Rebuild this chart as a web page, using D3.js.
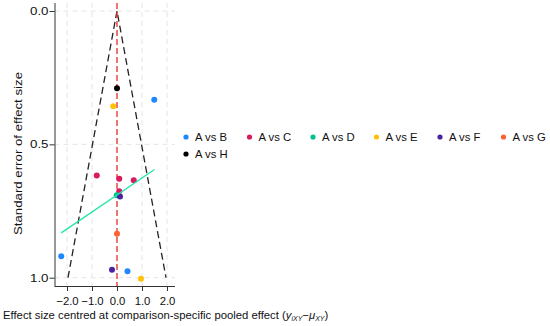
<!DOCTYPE html>
<html><head><meta charset="utf-8">
<script src="https://cdn.jsdelivr.net/npm/d3@7"></script>
<style>body{margin:0;background:#fff}svg{display:block;font-family:"Liberation Sans",Arial,sans-serif}</style>
</head><body><svg id="c" width="550" height="326"></svg>
<script>
const comparisons = ["A vs B","A vs C","A vs D","A vs E","A vs F","A vs G","A vs H"];
const colors = ["#1e88ff","#d81b60","#00c08b","#ffc20a","#4b239e","#fe6131","#000000"];
// each study: comparison, centred effect, standard error
const studyComp = ["A vs H","A vs E","A vs B","A vs C","A vs C","A vs C","A vs C","A vs D","A vs F","A vs G","A vs B","A vs F","A vs B","A vs E"];
const studyEffect = [0.0,-0.15,1.49,-0.81,0.09,0.67,0.09,-0.01,0.12,0.0,-2.23,-0.2,0.42,0.96];
const studySE = [0.29,0.357,0.333,0.617,0.629,0.635,0.676,0.691,0.696,0.835,0.92,0.97,0.976,1.004];
const regX = [-2.23, 1.5];
const regY = [0.832, 0.594];
const xTicks = [-2,-1,0,1,2];
const yTicks = [0,0.5,1];

const svg = d3.select("#c");
const x = d3.scaleLinear().domain([-2.5,2.32]).range([54.5,175]);
const y = d3.scaleLinear().domain([0,1]).range([11,277.7]);
const yTop = 3, yBot = 286;
const col = d3.scaleOrdinal().domain(comparisons).range(colors);

// grid
const g = svg.append("g");
g.selectAll(".gx").data(xTicks).join("line")
 .attr("x1",d=>x(d)).attr("x2",d=>x(d)).attr("y1",yTop).attr("y2",yBot)
 .attr("stroke","#e4e4e4").attr("stroke-width",1).attr("stroke-dasharray","5,4");
g.selectAll(".gy").data(yTicks).join("line")
 .attr("x1",54.5).attr("x2",175).attr("y1",d=>y(d)).attr("y2",d=>y(d))
 .attr("stroke","#e4e4e4").attr("stroke-width",1).attr("stroke-dasharray","5,4");

// funnel
const funnel = [[-1.96,1],[0,0],[1.96,1]];
svg.append("path").attr("d", d3.line().x(d=>x(d[0])).y(d=>y(d[1]))(funnel))
 .attr("fill","none").attr("stroke","#222").attr("stroke-width",1.3).attr("stroke-dasharray","7,4");
// null line
svg.append("line").attr("x1",x(0)).attr("x2",x(0)).attr("y1",yTop).attr("y2",yBot)
 .attr("stroke","#e8342c").attr("stroke-width",1.3).attr("stroke-dasharray","6,3");

// points
const pts = studyComp.map((c,i)=>({c, e:studyEffect[i], s:studySE[i]}));
svg.selectAll(".pt").data(pts).join("circle")
 .attr("cx",d=>x(d.e)).attr("cy",d=>y(d.s)).attr("r",3).attr("fill",d=>col(d.c));

// regression line
svg.append("line").attr("x1",x(regX[0])).attr("y1",y(regY[0])).attr("x2",x(regX[1])).attr("y2",y(regY[1]))
 .attr("stroke","#22e6a8").attr("stroke-width",1.3);

// axes
const xa = svg.append("g").attr("transform",`translate(0,${yBot})`)
 .call(d3.axisBottom(x).tickValues(xTicks).tickFormat(d3.format(".1f")).tickSize(5).tickSizeOuter(0));
const ya = svg.append("g").attr("transform","translate(54.5,0)")
 .call(d3.axisLeft(y).tickValues(yTicks).tickFormat(d3.format(".1f")).tickSize(5).tickSizeOuter(0));
xa.select(".domain").attr("d",`M54.5,0.5H175`);
ya.select(".domain").attr("d",`M0.5,${yTop}V${yBot}`);
[xa,ya].forEach(a=>{a.selectAll("text").attr("font-size",11.3).attr("fill","#111").attr("font-family","Liberation Sans, Arial, sans-serif");
 a.selectAll("line,path").attr("stroke","#333");});
xa.selectAll("text").attr("dy","0.95em");
ya.selectAll("text").attr("x",-6).attr("textLength",18.5).attr("lengthAdjust","spacingAndGlyphs");

// axis titles
svg.append("text").attr("transform","translate(22,153.5) rotate(-90)").attr("text-anchor","middle")
 .attr("font-size",11.3).attr("fill","#111").attr("textLength",163).attr("lengthAdjust","spacingAndGlyphs")
 .text("Standard error of effect size");
const t = svg.append("text").attr("x",3).attr("y",319).attr("font-size",11.3).attr("fill","#111");
t.append("tspan").text("Effect size centred at comparison-specific pooled effect (");
t.append("tspan").attr("font-style","italic").text("y");
t.append("tspan").attr("font-style","italic").attr("font-size",7).attr("dy",2).text("iXY");
t.append("tspan").attr("dy",-2).text("−");
t.append("tspan").attr("font-style","italic").text("μ");
t.append("tspan").attr("font-style","italic").attr("font-size",7).attr("dy",2).text("XY");
t.append("tspan").attr("dy",-2).text(")");

// legend
const leg = svg.append("g");
const items = leg.selectAll("g").data(comparisons).join("g")
 .attr("transform",(d,i)=>`translate(${186 + (i%6)*63.5},${137 + Math.floor(i/6)*17})`);
items.append("circle").attr("r",2.6).attr("fill",d=>col(d));
items.append("text").attr("x",9).attr("dy","0.35em").attr("font-size",11.3).attr("fill","#111").text(d=>d);
</script></body></html>
